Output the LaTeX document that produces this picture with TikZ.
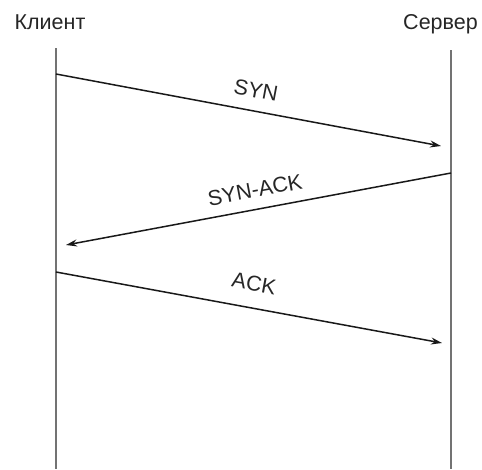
\documentclass[tikz,border=0pt]{standalone}
\usepackage{fontspec}
\setmainfont{Liberation Sans}
\usetikzlibrary{arrows.meta}
\begin{document}
\begin{tikzpicture}[x=1pt,y=-1pt,
  life/.style={draw=black!55,line width=2.4pt},
  msg/.style={draw=black!90,line width=1.5pt,-{Stealth[length=11pt,width=7pt]}},
  head/.style={font=\fontsize{21.5}{24}\selectfont,text=black!85,inner sep=0pt,anchor=base},
  lab/.style={font=\fontsize{21.5}{24}\selectfont,text=black!85,inner sep=0pt}]
\useasboundingbox (0,0) rectangle (482,469);
\node[head] (client) at (50,29) {Клиент};
\node[head] (server) at (440.5,29) {Сервер};
\coordinate (ct) at (56,48);
\coordinate (cb) at (56,469);
\coordinate (st) at (451,50);
\coordinate (sb) at (451,469);
\draw[life] (ct) -- (cb);
\draw[life] (st) -- (sb);
\coordinate (s1) at (56,74);
\coordinate (e1) at (441,146);
\coordinate (s2) at (451,173);
\coordinate (e2) at (66,245);
\coordinate (s3) at (56,272);
\coordinate (e3) at (442,343);
\draw[msg] (s1) -- (e1);
\draw[msg] (s2) -- (e2);
\draw[msg] (s3) -- (e3);
\node[lab,rotate=-10.6] (syn) at (256,90.5) {SYN};
\node[lab,rotate=10.6] (synack) at (255,190) {SYN-ACK};
\node[lab,rotate=-10.4] (ack) at (254,283.5) {ACK};
\end{tikzpicture}
\end{document}
